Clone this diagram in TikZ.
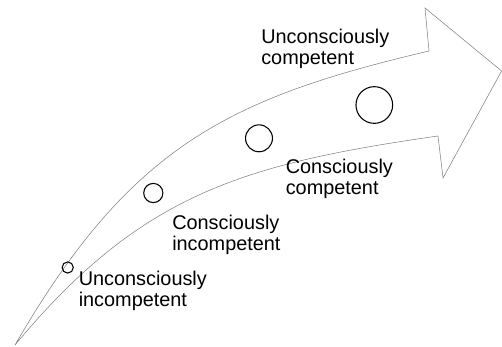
\documentclass[tikz,border=0pt]{standalone}
\usepackage{fontspec}
\setmainfont{Liberation Sans}
\begin{document}
\begin{tikzpicture}[x=0.75pt,y=-0.75pt,
  stage/.style={draw=black,line width=0.8pt,circle,inner sep=0pt},
  label/.style={anchor=base west,inner sep=0pt,align=left,font=\fontsize{14.9}{15.75}\selectfont}]
\useasboundingbox (0,0) rectangle (502,346);
\draw[gray,line width=0.4pt] (15,345) .. controls (130,146) and (229,98) .. (429,51)
  -- (425,8) -- (501.6,71) -- (443,178) -- (438,136)
  .. controls (242,164) and (140,194.5) .. (15,345) -- cycle;
\node[stage,minimum size=8.4pt] (c1) at (67.7,267.5) {};
\node[stage,minimum size=14.4pt] (c2) at (153.3,193) {};
\node[stage,minimum size=20.2pt] (c3) at (259,138.3) {};
\node[stage,minimum size=27.5pt] (c4) at (374.3,105) {};
\node[label] (t1) at (78.5,306.5) {Unconsciously\\incompetent};
\node[label] (t2) at (172,250) {Consciously\\incompetent};
\node[label] (t3) at (285.5,194.8) {Consciously\\competent};
\node[label] (t4) at (261,64.5) {Unconsciously\\competent};
\end{tikzpicture}
\end{document}
